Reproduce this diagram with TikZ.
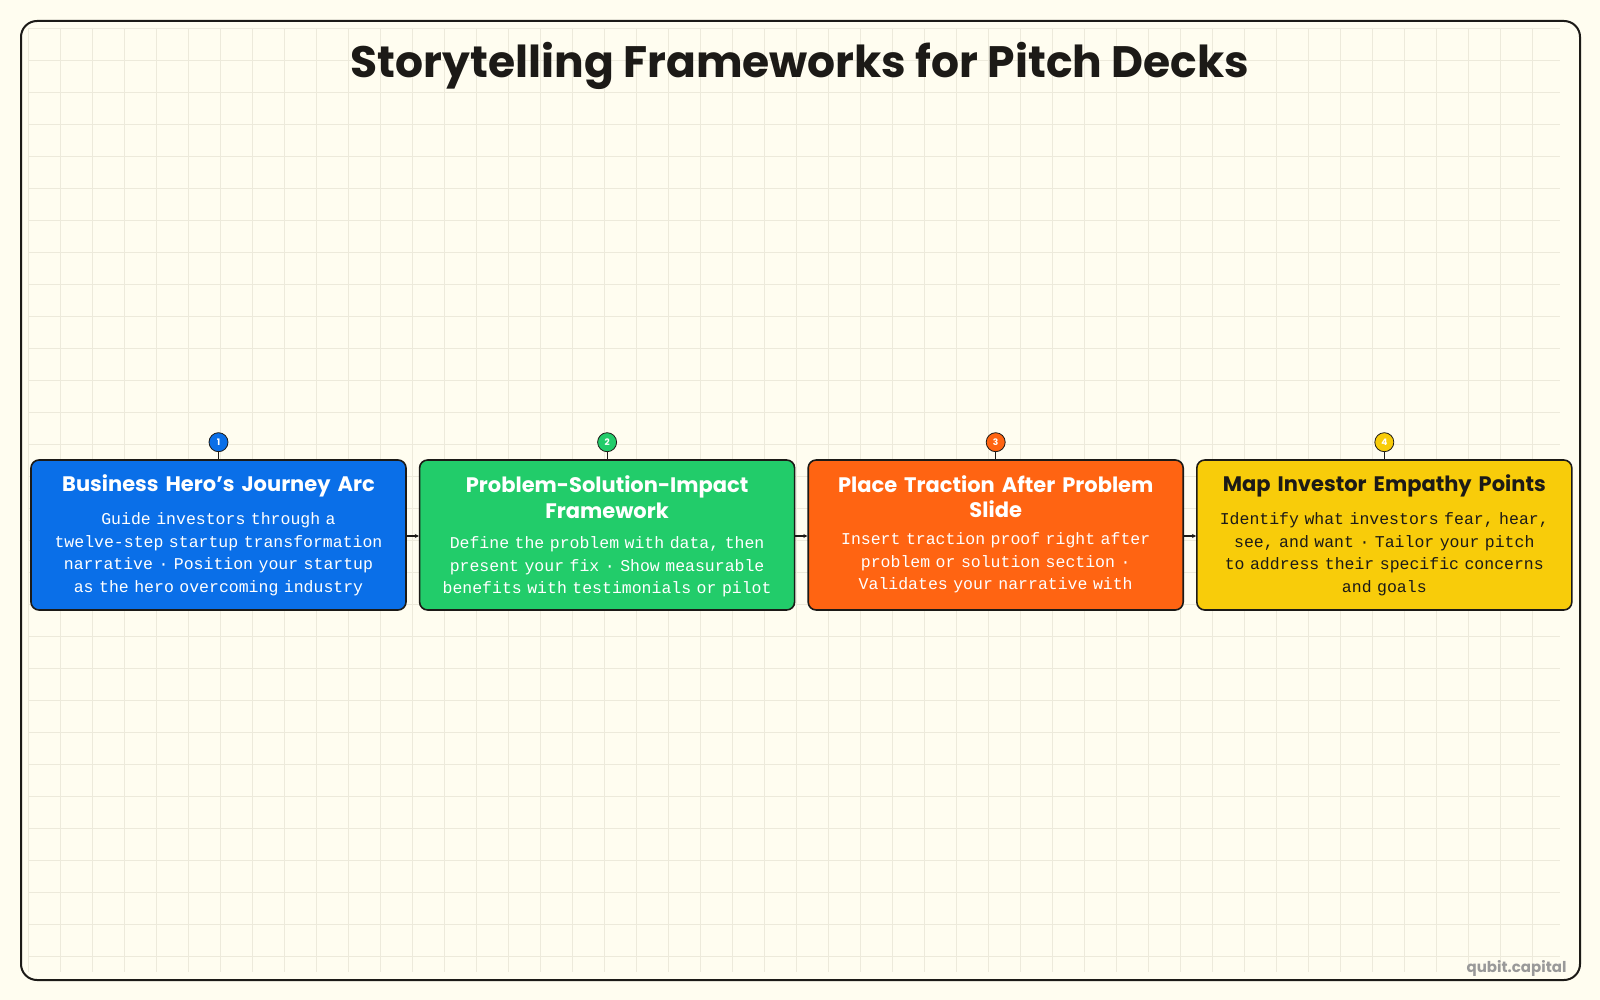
\documentclass[tikz,border=0pt]{standalone}
\usepackage{fontspec}
\setmainfont{Poppins}
\newfontfamily\bodymono{Liberation Mono}
\usetikzlibrary{positioning,arrows.meta}
\definecolor{paper}{HTML}{FFFDF0}
\definecolor{gridc}{HTML}{EDEADB}
\definecolor{inkc}{HTML}{1C1A17}
\definecolor{stepblue}{HTML}{0A6FE8}
\definecolor{stepgreen}{HTML}{22CC6A}
\definecolor{steporange}{HTML}{FF6412}
\definecolor{stepyellow}{HTML}{F8CC0A}
\tikzset{
  card/.style={draw=inkc, line width=1.6pt, rounded corners=8pt, minimum width=375pt, minimum height=150pt, inner sep=0pt},
  cardtitle/.style={font=\fontsize{21}{26}\selectfont\bfseries, align=center, text width=370pt},
  cardbody/.style={font=\bodymono\fontsize{16.5}{22.5}\selectfont, align=center, text width=372pt},
  badge/.style={circle, draw=inkc, line width=0.8pt, minimum size=19pt, inner sep=0pt, font=\fontsize{9}{9}\selectfont\bfseries, text=white},
  link/.style={draw=inkc, line width=1.2pt, -{Stealth[length=4pt,width=4pt]}}
}
\begin{document}
\begin{tikzpicture}[x=1pt,y=-1pt]
\useasboundingbox (0,0) rectangle (1600,1000);
\fill[paper] (0,0) rectangle (1600,1000);
% grid
\foreach \gx in {28,60,...,1560} \draw[gridc, line width=0.6pt] (\gx,28) -- (\gx,972);
\foreach \gy in {28,60,...,972} \draw[gridc, line width=0.6pt] (28,\gy) -- (1560,\gy);
\draw[inkc, line width=2pt, rounded corners=16pt] (21,21) rectangle (1580,980);
\node[font=\fontsize{44}{50}\selectfont\bfseries, text=inkc] (title) at (800,66) {Storytelling Frameworks for Pitch Decks};
% cards
\node[card, fill=stepblue] (hero) at (218.5,535) {};
\node[card, fill=stepgreen, right=12pt of hero] (psi) {};
\node[card, fill=steporange, right=12pt of psi] (traction) {};
\node[card, fill=stepyellow, right=12pt of traction] (empathy) {};
\node[cardtitle, text=white] at ([yshift=-27pt]hero.north) {Business Hero’s Journey Arc};
\node[cardbody, text=white, anchor=north] at ([yshift=-50pt]hero.north) {Guide investors through a\\twelve-step startup transformation\\narrative · Position your startup\\as the hero overcoming industry};
\node[cardtitle, text=white, anchor=north] at ([yshift=-13pt]psi.north) {Problem-Solution-Impact\\Framework};
\node[cardbody, text=white, anchor=north] at ([yshift=-74pt]psi.north) {Define the problem with data, then\\present your fix · Show measurable\\benefits with testimonials or pilot};
\node[cardtitle, text=white, anchor=north, font=\fontsize{21}{25}\selectfont\bfseries] at ([yshift=-13pt]traction.north) {Place Traction After Problem\\Slide};
\node[cardbody, text=white, anchor=north] at ([yshift=-70pt]traction.north) {Insert traction proof right after\\problem or solution section ·\\Validates your narrative with};
\node[cardtitle, text=inkc] at ([yshift=-27pt]empathy.north) {Map Investor Empathy Points};
\node[cardbody, text=inkc, anchor=north] at ([yshift=-50pt]empathy.north) {Identify what investors fear, hear,\\see, and want · Tailor your pitch\\to address their specific concerns\\and goals};
% badges
\foreach \c/\col/\n in {hero/stepblue/1, psi/stepgreen/2, traction/steporange/3, empathy/stepyellow/4} {
  \node[badge, fill=\col] (b\n) at ([yshift=17pt]\c.north) {\n};
  \draw[inkc, line width=1pt] (b\n.south) -- (\c.north);
}
% links
\draw[link] ([yshift=-1pt]hero.east) -- ([yshift=-1pt]psi.west);
\draw[link] ([yshift=-1pt]psi.east) -- ([yshift=-1pt]traction.west);
\draw[link] ([yshift=-1pt]traction.east) -- ([yshift=-1pt]empathy.west);
\node[font=\fontsize{15}{15}\selectfont\bfseries, text=gray!80, anchor=east] (brand) at (1570,968) {qubit.capital};
\end{tikzpicture}
\end{document}
